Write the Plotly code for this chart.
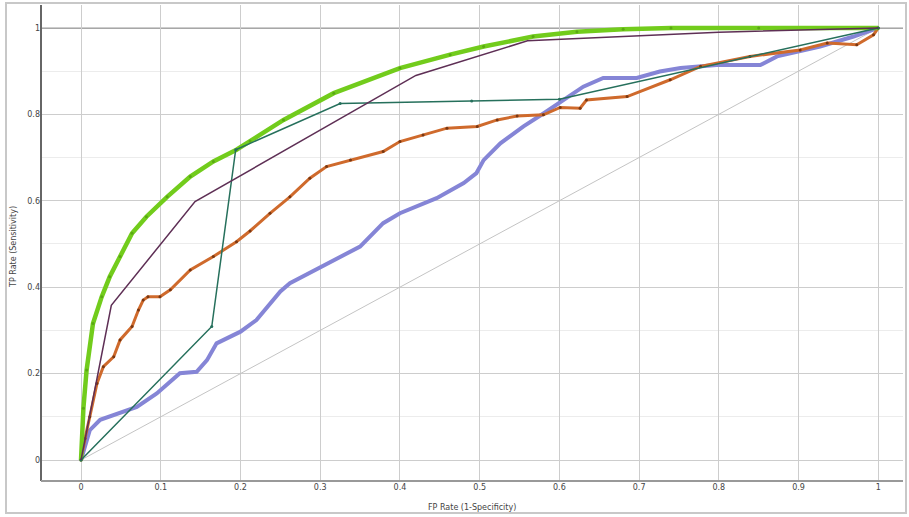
import plotly.graph_objects as go

# ---- data ----
green_x = [0, 0.003, 0.007, 0.015, 0.026, 0.036, 0.049, 0.064, 0.082, 0.108, 0.137, 0.166, 0.195,
           0.212, 0.254, 0.317, 0.4, 0.463, 0.505, 0.567, 0.622, 0.68, 0.74, 0.85, 1]
green_y = [0, 0.12, 0.208, 0.316, 0.378, 0.424, 0.471, 0.525, 0.563, 0.609, 0.656, 0.691, 0.718,
           0.738, 0.787, 0.849, 0.907, 0.938, 0.957, 0.980, 0.991, 0.997, 1, 1, 1]

purple_x = [0, 0.038, 0.143, 0.42, 0.56, 0.8, 1]
purple_y = [0, 0.358, 0.598, 0.89, 0.97, 0.99, 1]

teal_x = [0, 0.164, 0.194, 0.325, 0.49, 0.60, 1]
teal_y = [0, 0.309, 0.718, 0.825, 0.831, 0.835, 1]

orange_x = [0, 0.005, 0.011, 0.020, 0.028, 0.041, 0.049, 0.064, 0.072, 0.078, 0.084, 0.099, 0.112,
            0.137, 0.166, 0.195, 0.212, 0.237, 0.262, 0.287, 0.308, 0.338, 0.379, 0.4, 0.429, 0.459,
            0.497, 0.522, 0.547, 0.58, 0.601, 0.626, 0.634, 0.685, 0.739, 0.777, 0.839, 0.902, 0.936,
            0.973, 0.994, 1]
orange_y = [0, 0.05, 0.10, 0.177, 0.216, 0.239, 0.278, 0.309, 0.347, 0.370, 0.378, 0.378, 0.394,
            0.440, 0.471, 0.505, 0.53, 0.571, 0.609, 0.652, 0.679, 0.694, 0.714, 0.737, 0.752, 0.768,
            0.772, 0.787, 0.796, 0.799, 0.816, 0.814, 0.833, 0.841, 0.880, 0.911, 0.934, 0.949, 0.965,
            0.961, 0.984, 1]

blue_x = [0, 0.011, 0.024, 0.049, 0.07, 0.095, 0.124, 0.145, 0.158, 0.17, 0.2, 0.22, 0.237, 0.25,
          0.262, 0.317, 0.35, 0.379, 0.4, 0.446, 0.48, 0.496, 0.505, 0.526, 0.555, 0.58, 0.605, 0.63,
          0.655, 0.697, 0.726, 0.752, 0.797, 0.852, 0.873, 0.927, 0.969, 1]
blue_y = [0, 0.069, 0.093, 0.108, 0.123, 0.154, 0.201, 0.204, 0.231, 0.27, 0.297, 0.324, 0.363, 0.39,
          0.409, 0.463, 0.494, 0.548, 0.571, 0.606, 0.641, 0.664, 0.694, 0.733, 0.772, 0.802, 0.833,
          0.864, 0.884, 0.884, 0.899, 0.907, 0.914, 0.914, 0.934, 0.957, 0.98, 1]

diag_x = [0, 1]
diag_y = [0, 1]

x_ticks = [0, 0.1, 0.2, 0.3, 0.4, 0.5, 0.6, 0.7, 0.8, 0.9, 1]
x_tick_text = ["0", "0.1", "0.2", "0.3", "0.4", "0.5", "0.6", "0.7", "0.8", "0.9", "1"]
y_ticks = [0, 0.2, 0.4, 0.6, 0.8, 1]
y_tick_text = ["0", "0.2", "0.4", "0.6", "0.8", "1"]

fig = go.Figure()
fig.add_trace(go.Scatter(x=diag_x, y=diag_y, mode="lines",
                         line=dict(color="#c4c4c4", width=1), showlegend=False))
fig.add_trace(go.Scatter(x=blue_x, y=blue_y, mode="lines",
                         line=dict(color="#8585d6", width=4), showlegend=False))
fig.add_trace(go.Scatter(x=orange_x, y=orange_y, mode="lines+markers",
                         line=dict(color="#cf6a2c", width=3),
                         marker=dict(color="#7a3812", size=3), showlegend=False))
fig.add_trace(go.Scatter(x=green_x, y=green_y, mode="lines+markers",
                         line=dict(color="#72cc1c", width=4.5),
                         marker=dict(color="#5aa814", size=3), showlegend=False))
fig.add_trace(go.Scatter(x=teal_x, y=teal_y, mode="lines+markers",
                         line=dict(color="#26705c", width=1.5),
                         marker=dict(color="#26705c", size=3), showlegend=False))
fig.add_trace(go.Scatter(x=purple_x, y=purple_y, mode="lines",
                         line=dict(color="#5e2f55", width=1.5), showlegend=False))

W, H = 909, 517
ml, mr, mt, mb = 41, 6, 5, 36
pw, ph = W - ml - mr, H - mt - mb

fig.update_layout(
    width=W, height=H,
    margin=dict(l=ml, r=mr, t=mt, b=mb),
    paper_bgcolor="white", plot_bgcolor="white",
    font=dict(family="DejaVu Sans", size=8, color="#444"),
    xaxis=dict(range=[-0.0502, 1.031], tickvals=x_ticks, ticktext=x_tick_text,
               showgrid=True, gridcolor="#cdcdcd", gridwidth=1, zeroline=False,
               showline=False, ticks="", automargin=False,
               tickfont=dict(size=8, color="#444")),
    yaxis=dict(range=[-0.0486, 1.053], tickvals=y_ticks, ticktext=y_tick_text,
               showgrid=True, gridcolor="#cdcdcd", gridwidth=1, zeroline=False,
               showline=False, ticks="", automargin=False,
               tickfont=dict(size=8, color="#444"),
               minor=dict(dtick=0.1, tick0=0, showgrid=True, gridcolor="#ececec", gridwidth=1)),
)

shapes = []
# darker line at y = 1
shapes.append(dict(type="line", xref="paper", yref="y", x0=0, x1=1, y0=1, y1=1,
                   line=dict(color="#8a8a8a", width=1.5), layer="below"))
# axis lines
shapes.append(dict(type="line", xref="paper", yref="paper", x0=0, x1=0, y0=0, y1=1,
                   line=dict(color="#666", width=2)))
shapes.append(dict(type="line", xref="paper", yref="paper", x0=0, x1=1, y0=0, y1=0,
                   line=dict(color="#999", width=2)))
# outer window frame
shapes.append(dict(type="rect", xref="paper", yref="paper",
                   x0=(6 - ml) / pw, x1=(W - 3 - ml) / pw,
                   y0=(H - mb - 513) / ph, y1=(H - mb - 3) / ph,
                   line=dict(color="#c8c8c8", width=2), fillcolor="rgba(0,0,0,0)"))
fig.update_layout(shapes=shapes)

fig.add_annotation(text="FP Rate (1-Specificity)", xref="paper", yref="paper",
                   x=0.5, y=(H - mb - 507) / ph, showarrow=False,
                   font=dict(size=8, color="#444"), yanchor="middle")
fig.add_annotation(text="TP Rate (Sensitivity)", xref="paper", yref="paper",
                   x=(13 - ml) / pw, y=(H - mb - 247) / ph, showarrow=False, textangle=-90,
                   font=dict(size=8, color="#444"), xanchor="center", yanchor="middle")

fig.write_html("out.html", config={"displayModeBar": False},
               post_script="document.body.style.margin='0';document.body.style.overflow='hidden';")
